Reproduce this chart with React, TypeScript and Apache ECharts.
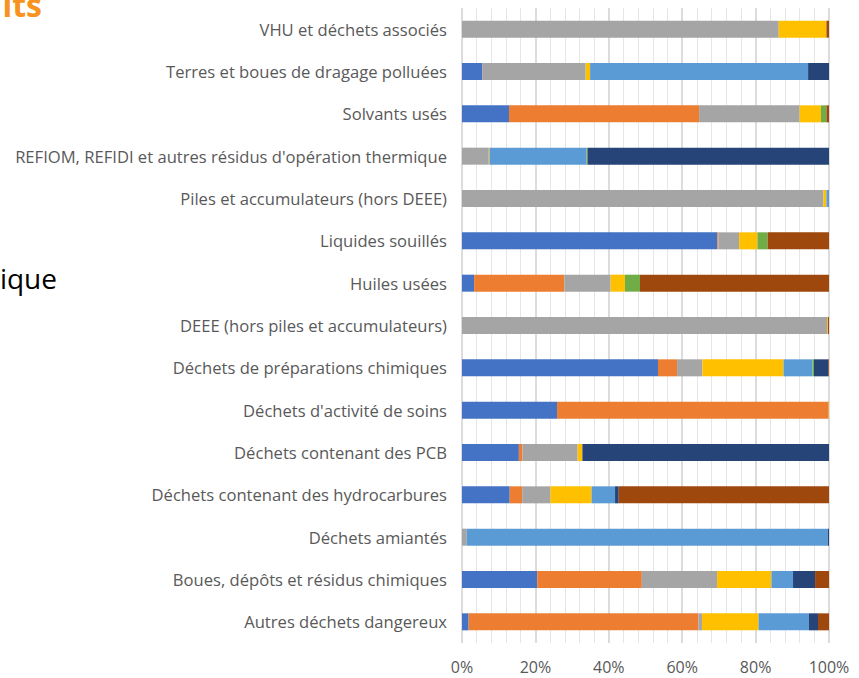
import React, { useEffect, useRef } from "react";
import * as echarts from "echarts";

const categories = [
  "Autres déchets dangereux",
  "Boues, dépôts et résidus chimiques",
  "Déchets amiantés",
  "Déchets contenant des hydrocarbures",
  "Déchets contenant des PCB",
  "Déchets d'activité de soins",
  "Déchets de préparations chimiques",
  "DEEE (hors piles et accumulateurs)",
  "Huiles usées",
  "Liquides souillés",
  "Piles et accumulateurs (hors DEEE)",
  "REFIOM, REFIDI et autres résidus d'opération thermique",
  "Solvants usés",
  "Terres et boues de dragage polluées",
  "VHU et déchets associés",
];

const serieA = [1.8, 20.5, 0, 13.0, 15.5, 25.9, 53.4, 0, 3.3, 69.6, 0, 0, 12.8, 5.5, 0];
const serieB = [62.6, 28.5, 0, 3.4, 1.0, 74.0, 5.2, 0, 24.6, 0.3, 0, 0, 51.8, 0, 0];
const serieC = [1.0, 20.5, 1.3, 7.7, 15.0, 0, 6.9, 99.5, 12.6, 5.6, 98.5, 7.3, 27.4, 28.2, 86.3];
const serieD = [15.4, 14.8, 0, 11.2, 1.3, 0.1, 22.1, 0.2, 3.9, 5.0, 0.8, 0.2, 5.8, 1.2, 13.0];
const serieE = [13.7, 5.9, 98.4, 6.4, 0, 0, 7.9, 0, 0, 0, 0.7, 26.4, 0, 59.4, 0];
const serieF = [0, 0, 0, 0, 0, 0, 0.4, 0, 4.1, 2.8, 0, 0.3, 1.5, 0, 0];
const serieG = [2.5, 6.0, 0.3, 1.0, 67.2, 0, 3.9, 0, 0, 0, 0, 65.8, 0, 5.7, 0];
const serieH = [3.0, 3.8, 0, 57.3, 0, 0, 0.2, 0.3, 51.5, 16.7, 0, 0, 0.7, 0, 0.7];

const seriesList = [
  { name: "Série 1", data: serieA, color: "#4472C4" },
  { name: "Série 2", data: serieB, color: "#ED7D31" },
  { name: "Série 3", data: serieC, color: "#A5A5A5" },
  { name: "Série 4", data: serieD, color: "#FFC000" },
  { name: "Série 5", data: serieE, color: "#5B9BD5" },
  { name: "Série 6", data: serieF, color: "#70AD47" },
  { name: "Série 7", data: serieG, color: "#264478" },
  { name: "Série 8", data: serieH, color: "#9E480E" },
];

const FONT = "'Open Sans', 'Noto Sans', sans-serif";

export default function App() {
  const ref = useRef<HTMLDivElement>(null);
  useEffect(() => {
    if (!ref.current) return;
    const chart = echarts.init(ref.current, null, { renderer: "svg" });
    chart.setOption({
      animation: false,
      backgroundColor: "#ffffff",
      grid: { left: 462, right: 30, top: 8, bottom: 35, containLabel: false },
      xAxis: {
        type: "value",
        min: 0,
        max: 100,
        interval: 20,
        axisLine: { show: false },
        axisTick: { show: false },
        axisLabel: {
          formatter: "{value}%",
          color: "#595959",
          fontSize: 16,
          fontFamily: FONT,
          margin: 16,
        },
        splitLine: { show: true, lineStyle: { color: "#D0D0D0", width: 1.5 } },
        minorTick: { show: false, splitNumber: 5 },
        minorSplitLine: { show: true, lineStyle: { color: "#E6E6E6", width: 1 } },
      },
      yAxis: {
        type: "category",
        data: categories,
        axisLine: { show: false },
        axisTick: { show: false },
        axisLabel: {
          color: "#595959",
          fontSize: 16.6,
          fontFamily: FONT,
          margin: 15,
        },
      },
      graphic: [
        {
          type: "text",
          style: {
            text: "its",
            x: 42,
            y: 4,
            align: "right",
            verticalAlign: "middle",
            fill: "#F7931E",
            font: `bold 32px ${FONT}`,
          },
        },
        {
          type: "text",
          style: {
            text: "tique",
            x: 57,
            y: 278,
            align: "right",
            verticalAlign: "middle",
            fill: "#000000",
            font: `28px ${FONT}`,
          },
        },
      ],
      series: seriesList.map((s) => ({
        name: s.name,
        type: "bar",
        stack: "total",
        data: s.data,
        barWidth: 17,
        itemStyle: { color: s.color },
      })),
    });
    return () => chart.dispose();
  }, []);
  return (
    <div
      ref={ref}
      style={{ position: "absolute", left: 0, top: 0, width: 859, height: 678 }}
    />
  );
}
